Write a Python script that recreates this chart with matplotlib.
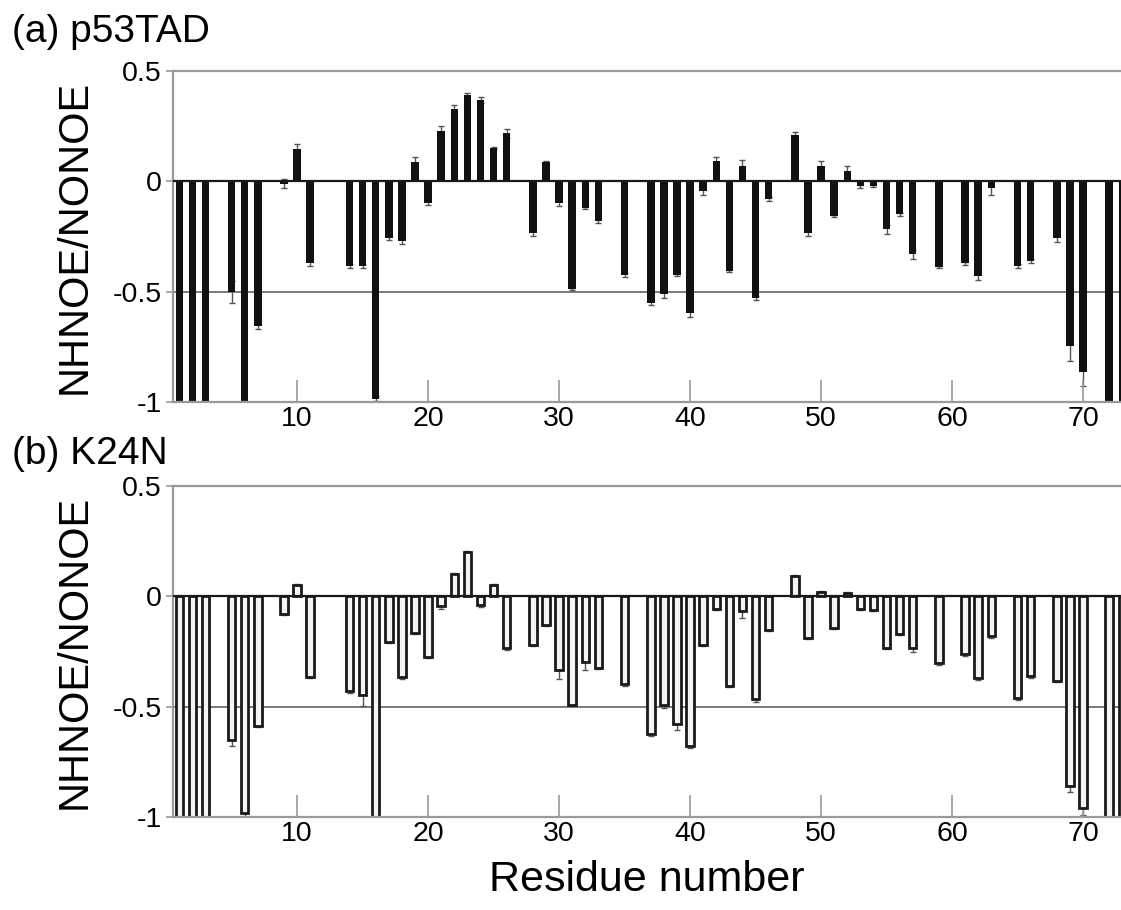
"""NHNOE/NONOE per residue for p53TAD and the K24N mutant (two stacked bar panels)."""
import numpy as np
import matplotlib
matplotlib.use("Agg")
import matplotlib.pyplot as plt

nan = np.nan

residues = np.arange(1, 74)

# panel (a) p53TAD, value per residue 1..73 (nan = no data)
p53tad = [
    -1.2, -1.2, -1.2, nan, -0.50, -1.2, -0.655, nan, -0.01, 0.146,
    -0.372, nan, nan, -0.385, -0.385, -0.985, -0.258, -0.27, 0.089, -0.098,
    0.229, 0.327, 0.39, 0.369, 0.15, 0.218, nan, -0.236, 0.086, -0.10,
    -0.489, -0.12, -0.18, nan, -0.425, nan, -0.55, -0.51, -0.425, -0.595,
    -0.045, 0.09, -0.408, 0.071, -0.53, -0.08, nan, 0.21, -0.236, 0.071,
    -0.158, 0.048, -0.023, -0.02, -0.218, -0.15, -0.33, nan, -0.387, nan,
    -0.372, -0.43, -0.03, nan, -0.384, -0.36, nan, -0.256, -0.745, -0.866,
    nan, -1.2, -1.2,
]
p53tad_err = [
    0, 0, 0, 0, 0.05, 0, 0.015, 0, 0.02, 0.025,
    0.01, 0, 0, 0.01, 0.01, 0.01, 0.01, 0.015, 0.02, 0.01,
    0.02, 0.02, 0.01, 0.015, 0.005, 0.02, 0, 0.01, 0.005, 0.01,
    0.005, 0.005, 0.01, 0, 0.01, 0, 0.01, 0.02, 0.005, 0.02,
    0.015, 0.02, 0.005, 0.025, 0.01, 0.01, 0, 0.015, 0.01, 0.02,
    0.005, 0.02, 0.005, 0.005, 0.02, 0.005, 0.02, 0, 0.005, 0,
    0.005, 0.015, 0.03, 0, 0.01, 0.01, 0, 0.02, 0.07, 0.06,
    0, 0, 0,
]

# panel (b) K24N
k24n = [
    -1.2, -1.2, -1.2, nan, -0.65, -0.98, -0.587, nan, -0.08, 0.051,
    -0.366, nan, nan, -0.43, -0.446, -1.2, -0.205, -0.366, -0.166, -0.276,
    -0.042, 0.10, 0.20, -0.04, 0.05, -0.235, nan, -0.22, -0.13, -0.336,
    -0.494, -0.298, -0.325, nan, -0.396, nan, -0.626, -0.494, -0.577, -0.678,
    -0.22, -0.057, -0.407, -0.065, -0.467, -0.152, nan, 0.093, -0.19, 0.018,
    -0.143, 0.015, -0.057, -0.06, -0.233, -0.17, -0.233, nan, -0.30, nan,
    -0.26, -0.37, -0.182, nan, -0.46, -0.363, nan, -0.384, -0.858, -0.96,
    nan, -1.2, -1.2,
]
k24n_err = [
    0, 0, 0, 0, 0.03, 0.04, 0.005, 0, 0.005, 0.005,
    0.005, 0, 0, 0.01, 0.05, 0, 0.005, 0.01, 0.005, 0.005,
    0.015, 0.005, 0.005, 0.01, 0.005, 0.01, 0, 0.005, 0.005, 0.04,
    0.005, 0.035, 0.005, 0, 0.01, 0, 0.005, 0.01, 0.03, 0.01,
    0.005, 0.005, 0.005, 0.035, 0.01, 0.005, 0, 0.005, 0.005, 0.005,
    0.005, 0.005, 0.005, 0.005, 0.005, 0.005, 0.02, 0, 0.01, 0,
    0.01, 0.01, 0.005, 0, 0.01, 0.005, 0, 0.005, 0.03, 0.03,
    0, 0, 0,
]

PANELS = [
    ("(a) p53TAD", p53tad, p53tad_err, "#111111", "#111111", 0.0),
    ("(b) K24N", k24n, k24n_err, "#f4f4f4", "#1a1a1a", 2.0),
]

plt.rcParams.update({
    "font.family": ["Liberation Sans", "DejaVu Sans"],
    "axes.linewidth": 1.2,
})

fig = plt.figure(figsize=(11.21, 9.10), dpi=100)
W, H = 1121, 910
GRAY = "#9a9a9a"

axes_px = [(71, 402), (486, 817)]   # top, bottom in pixels
title_y = [42, 464]

for (title, vals, errs, fc, ec, lw), (top, bot), ty in zip(PANELS, axes_px, title_y):
    left = 172.7
    ax = fig.add_axes([left / W, 1 - bot / H, (W - left) / W, (bot - top) / H])
    vals = np.array(vals, dtype=float)
    errs = np.array(errs, dtype=float)
    ok = ~np.isnan(vals)

    ax.axhline(-0.5, color="#7a7a7a", lw=1.4, zorder=0)
    ax.errorbar(residues[ok], vals[ok], yerr=errs[ok], fmt="none",
                ecolor="#555555", elinewidth=1.0, capsize=2.5, capthick=1.0,
                zorder=1)
    ax.bar(residues[ok], vals[ok], width=0.57, color=fc, edgecolor=ec,
           linewidth=lw, zorder=2)
    ax.axhline(0, color="#1a1a1a", lw=1.6, zorder=3)

    ax.set_xlim(0.5, 72.9)
    ax.set_ylim(-1, 0.5)
    ax.set_yticks([-1, -0.5, 0, 0.5])
    ax.set_yticklabels(["-1", "-0.5", "0", "0.5"])
    ax.set_xticks([10, 20, 30, 40, 50, 60, 70])

    for side in ("top", "left", "bottom"):
        ax.spines[side].set_color(GRAY)
        ax.spines[side].set_linewidth(1.6)
    ax.spines["right"].set_visible(False)

    ax.tick_params(axis="x", direction="in", length=16, width=1.2,
                   color=GRAY, labelsize=20.5, pad=3)
    ax.tick_params(axis="y", direction="out", length=5, width=1.2,
                   color=GRAY, labelsize=20.5, pad=3)

    ax.set_ylabel("NHNOE/NONOE", fontsize=30, labelpad=13)
    fig.text(12 / W, 1 - ty / H, title, fontsize=28, ha="left",
             va="baseline")

fig.text(647 / W, 1 - 880 / H, "Residue number", fontsize=31,
         ha="center", va="center")

fig.savefig("out.png", dpi=100)
